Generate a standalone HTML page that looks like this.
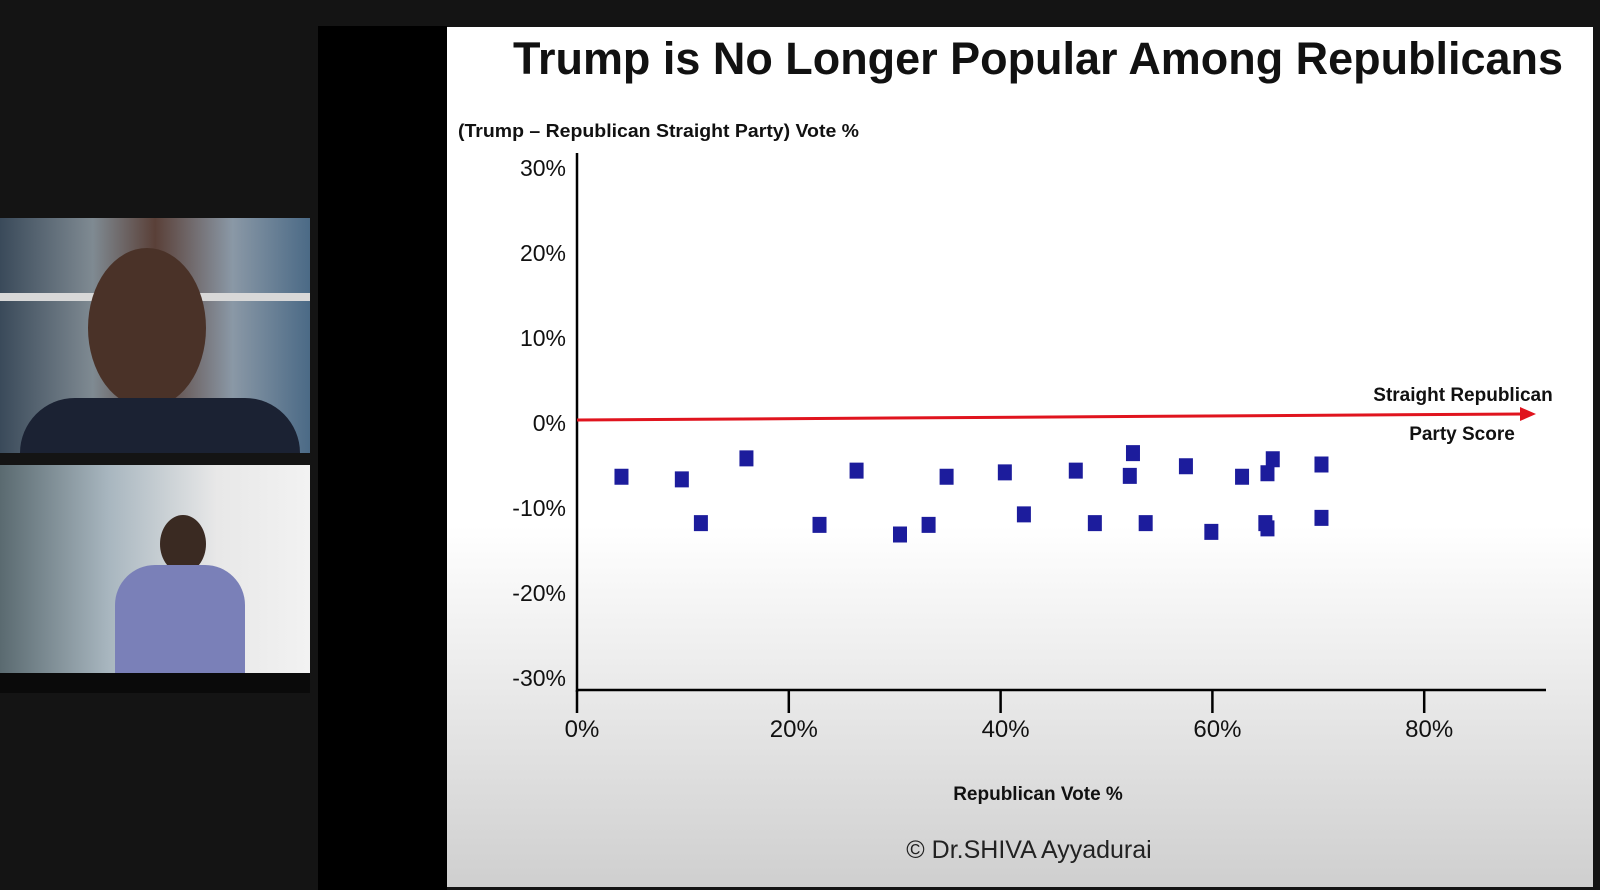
<!DOCTYPE html>
<html><head><meta charset="utf-8"><style>
html,body{margin:0;padding:0;width:1600px;height:890px;overflow:hidden;background:#141414;font-family:"Liberation Sans",sans-serif}
.abs{position:absolute}
</style></head><body>
<div class="abs" style="left:0;top:0;width:318px;height:890px;background:#141414"></div>
<div class="abs" style="left:318px;top:26px;width:129px;height:864px;background:#000"></div>
<div class="abs" style="left:0;top:218px;width:310px;height:235px;background:linear-gradient(90deg,#3a4a5a 0%,#7f8a92 30%,#5a4038 50%,#8a98a6 75%,#4b6a86 100%)">
  <div class="abs" style="left:0;top:75px;width:310px;height:8px;background:#d8d8d8"></div>
  <div class="abs" style="left:88px;top:30px;width:118px;height:160px;border-radius:50%;background:#4a3228"></div>
  <div class="abs" style="left:20px;top:180px;width:280px;height:55px;border-radius:60px 60px 0 0;background:#1b2233"></div>
</div>
<div class="abs" style="left:0;top:465px;width:310px;height:208px;background:linear-gradient(90deg,#5a6a70 0%,#a8b6bf 35%,#e8e8e8 70%,#f2f2f2 100%)">
  <div class="abs" style="left:160px;top:50px;width:46px;height:58px;border-radius:50%;background:#3a2a22"></div>
  <div class="abs" style="left:115px;top:100px;width:130px;height:108px;border-radius:40px 40px 0 0;background:#7a80b8"></div>
</div>
<div class="abs" style="left:0;top:673px;width:310px;height:20px;background:#0a0a0a"></div>

<div class="abs" style="left:447px;top:27px;width:1146px;height:860px;background:linear-gradient(180deg,#fff 0%,#fff 58%,#e6e6e6 80%,#cfcfcf 100%)"></div>

<svg class="abs" style="left:0;top:0" width="1600" height="890">
<text x="513" y="74" textLength="1050" lengthAdjust="spacingAndGlyphs" font-family="Liberation Sans" font-weight="bold" font-size="45" fill="#111">Trump is No Longer Popular Among Republicans</text>
<text x="458" y="137" textLength="401" lengthAdjust="spacingAndGlyphs" font-weight="bold" font-size="18" fill="#111">(Trump – Republican Straight Party) Vote %</text>
<line x1="577" y1="153" x2="577" y2="692" stroke="#000" stroke-width="2.5"/>
<line x1="576" y1="690" x2="1546" y2="690" stroke="#000" stroke-width="2.5"/>
<g id="yt"></g><g id="xt"></g>
<line x1="577" y1="420" x2="1524" y2="414" stroke="#e0141e" stroke-width="3"/>
<polygon points="1536,414 1520,407 1520,421" fill="#e0141e"/>
<text x="1463" y="401" text-anchor="middle" font-weight="bold" font-size="19" fill="#111">Straight Republican</text>
<text x="1462" y="440" text-anchor="middle" font-weight="bold" font-size="19" fill="#111">Party Score</text>
<g id="pts"></g>
<text x="1038" y="800" text-anchor="middle" font-weight="bold" font-size="19" fill="#111">Republican Vote %</text>
<text x="1029" y="858" text-anchor="middle" font-size="25" fill="#222">© Dr.SHIVA Ayyadurai</text>
</svg>
<script>
const xValues=[4.2,9.9,16.0,11.7,26.4,22.9,34.9,30.5,33.2,40.4,42.2,47.1,48.9,52.5,52.2,53.7,57.5,59.9,62.8,65.7,65.2,65.0,65.2,70.3,70.3];
const yValues=[-6.6,-6.9,-4.5,-11.9,-5.9,-12.1,-6.6,-13.2,-12.1,-6.1,-10.9,-5.9,-11.9,-3.9,-6.5,-11.9,-5.4,-12.9,-6.6,-4.6,-6.2,-11.9,-12.5,-5.2,-11.3];
const yTicks=[30,20,10,0,-10,-20,-30];
const xTicks=[0,20,40,60,80];
const NS="http://www.w3.org/2000/svg";
function sx(v){return 577+v*10.59;}
function sy(v){return 419-v*8.75;}
function syLabel(v){return 423-v*8.5;}
const yt=document.getElementById('yt');
yTicks.forEach(v=>{const t=document.createElementNS(NS,'text');


t.setAttribute('x',566);t.setAttribute('y',syLabel(v)+8);t.setAttribute('text-anchor','end');t.setAttribute('font-size','23');t.setAttribute('fill','#111');t.textContent=v+'%';yt.appendChild(t);});
const xt=document.getElementById('xt');
xTicks.forEach(v=>{const l=document.createElementNS(NS,'line');


l.setAttribute('x1',sx(v));l.setAttribute('x2',sx(v));l.setAttribute('y1',690);l.setAttribute('y2',713);l.setAttribute('stroke','#000');l.setAttribute('stroke-width','2.5');xt.appendChild(l);
const t=document.createElementNS(NS,'text');


t.setAttribute('x',sx(v)+5);t.setAttribute('y',737);t.setAttribute('text-anchor','middle');t.setAttribute('font-size','24');t.setAttribute('fill','#111');t.textContent=v+'%';xt.appendChild(t);});
const pts=document.getElementById('pts');
xValues.forEach((x,i)=>{const r=document.createElementNS(NS,'rect');


r.setAttribute('x',sx(x)-7);r.setAttribute('y',sy(yValues[i])-8);r.setAttribute('width',14);r.setAttribute('height',16);r.setAttribute('fill','#1c1c9c');pts.appendChild(r);});
</script>
</body></html>
